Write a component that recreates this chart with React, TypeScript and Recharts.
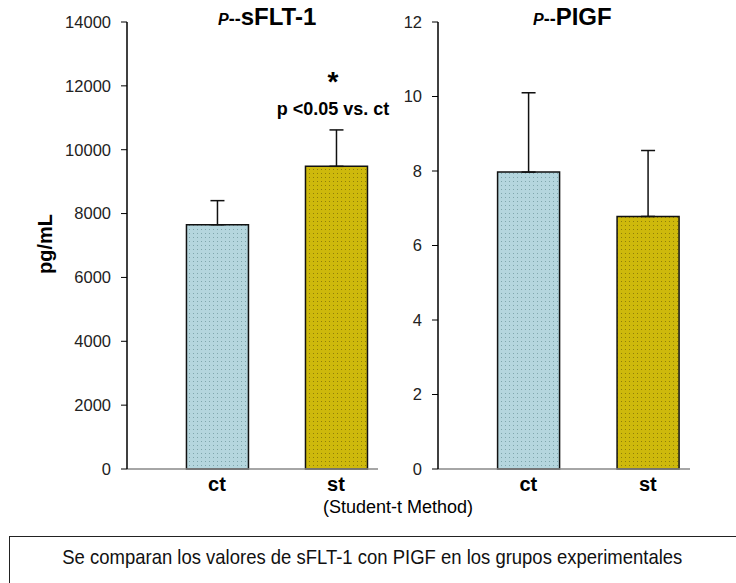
import { BarChart, Bar, XAxis, YAxis, ErrorBar, Cell } from 'recharts'

// group labels and values
const categories = ['ct', 'st']
const sflt1Mean = [7650, 9480]
const sflt1Err = [755, 1140]
const pigfMean = [7.97, 6.78]
const pigfErr = [2.13, 1.77]
const sflt1Ticks = [0, 2000, 4000, 6000, 8000, 10000, 12000, 14000]
const pigfTicks = [0, 2, 4, 6, 8, 10, 12]

const FONT = '"Liberation Sans", Arial, sans-serif'
const fills = ['url(#dotsCt)', 'url(#dotsSt)']

const sflt1Data = categories.map((c, i) => ({ x: i + 1, name: c, value: sflt1Mean[i], err: [0, sflt1Err[i]] }))
const pigfData = categories.map((c, i) => ({ x: i + 1, name: c, value: pigfMean[i], err: [0, pigfErr[i]] }))

function Patterns() {
  return (
    <defs>
      <pattern id="dotsCt" width="4" height="4" patternUnits="userSpaceOnUse">
        <rect width="4" height="4" fill="#b5d6de" />
        <rect x="1" y="1" width="1" height="1" fill="#7fa6ac" />
      </pattern>
      <pattern id="dotsSt" width="4" height="4" patternUnits="userSpaceOnUse">
        <rect width="4" height="4" fill="#ceb90c" />
        <rect x="1" y="1" width="1" height="1" fill="#8f7f08" />
      </pattern>
    </defs>
  )
}

function Panel({ data, ticks, max, yWidth, left, width, mLeft, mRight }: {
  data: typeof sflt1Data; ticks: number[]; max: number; yWidth: number
  left: number; width: number; mLeft: number; mRight: number
}) {
  return (
    <div style={{ position: 'absolute', left, top: 0 }}>
      <BarChart width={width} height={583} data={data}
        margin={{ top: 22, right: mRight, left: mLeft, bottom: 84 }}>
        <Patterns />
        <XAxis dataKey="x" type="number" domain={[0.244, 2.353]} ticks={[1, 2]}
          allowDataOverflow height={30}
          tickFormatter={(v: number) => categories[v - 1]}
          tick={{ fill: '#000', fontSize: 20, fontWeight: 'bold', fontFamily: FONT }}
          tickLine={false} tickMargin={2}
          axisLine={{ stroke: '#888', strokeWidth: 1.5 }} />
        <YAxis domain={[0, max]} ticks={ticks} width={yWidth} interval={0}
          tick={{ fill: '#222', fontSize: 16.5, fontFamily: FONT }}
          tickSize={6} tickMargin={10}
          tickLine={{ stroke: '#000' }} axisLine={{ stroke: '#000', strokeWidth: 1.5 }} />
        <Bar dataKey="value" barSize={62} stroke="#111" strokeWidth={1.5} isAnimationActive={false}>
          {data.map((_, i) => <Cell key={i} fill={fills[i]} />)}
          <ErrorBar dataKey="err" width={7} stroke="#111" strokeWidth={1.5} direction="y" />
        </Bar>
      </BarChart>
    </div>
  )
}

export default function App() {
  return (
    <div style={{ position: 'absolute', left: 0, top: 0, width: 736, height: 583, background: '#fff', fontFamily: FONT, overflow: 'hidden' }}>
      <Panel data={sflt1Data} ticks={sflt1Ticks} max={14000} yWidth={60} left={0} width={400} mLeft={67} mRight={22} />
      <Panel data={pigfData} ticks={pigfTicks} max={12} yWidth={30} left={400} width={310} mLeft={8} mRight={20} />

      {/* panel titles */}
      <div style={{ position: 'absolute', left: 218, top: 3, fontSize: 24, fontWeight: 'bold', whiteSpace: 'nowrap' }}>
        <span style={{ fontStyle: 'italic', fontSize: 16 }}>P</span><span style={{ fontSize: 18 }}>--</span>sFLT-1
      </div>
      <div style={{ position: 'absolute', left: 533, top: 3, fontSize: 24, fontWeight: 'bold', whiteSpace: 'nowrap' }}>
        <span style={{ fontStyle: 'italic', fontSize: 16 }}>P</span><span style={{ fontSize: 18 }}>--</span>PIGF
      </div>

      {/* significance note */}
      <div style={{ position: 'absolute', left: 233, width: 200, top: 66, textAlign: 'center', fontSize: 28, fontWeight: 'bold' }}>*</div>
      <div style={{ position: 'absolute', left: 233, width: 200, top: 99, textAlign: 'center', fontSize: 18, fontWeight: 'bold' }}>p &lt;0.05 vs. ct</div>

      {/* y label */}
      <div style={{ position: 'absolute', left: 45, top: 244, transform: 'translate(-50%, -50%) rotate(-90deg)', fontSize: 20, fontWeight: 'bold', whiteSpace: 'nowrap' }}>pg/mL</div>

      <div style={{ position: 'absolute', left: 298, width: 200, top: 497, textAlign: 'center', fontSize: 18 }}>(Student-t Method)</div>

      {/* caption box */}
      <div style={{ position: 'absolute', left: 9, top: 536, width: 740, height: 60, border: '1.5px solid #222', boxSizing: 'border-box' }} />
      <div style={{ position: 'absolute', left: 9, width: 727, top: 545, textAlign: 'center', whiteSpace: 'nowrap' }}>
        <span style={{ display: 'inline-block', fontSize: 21, color: '#111', transform: 'scaleX(0.88)' }}>
          Se comparan los valores de sFLT-1 con PIGF en los grupos experimentales
        </span>
      </div>
    </div>
  )
}
